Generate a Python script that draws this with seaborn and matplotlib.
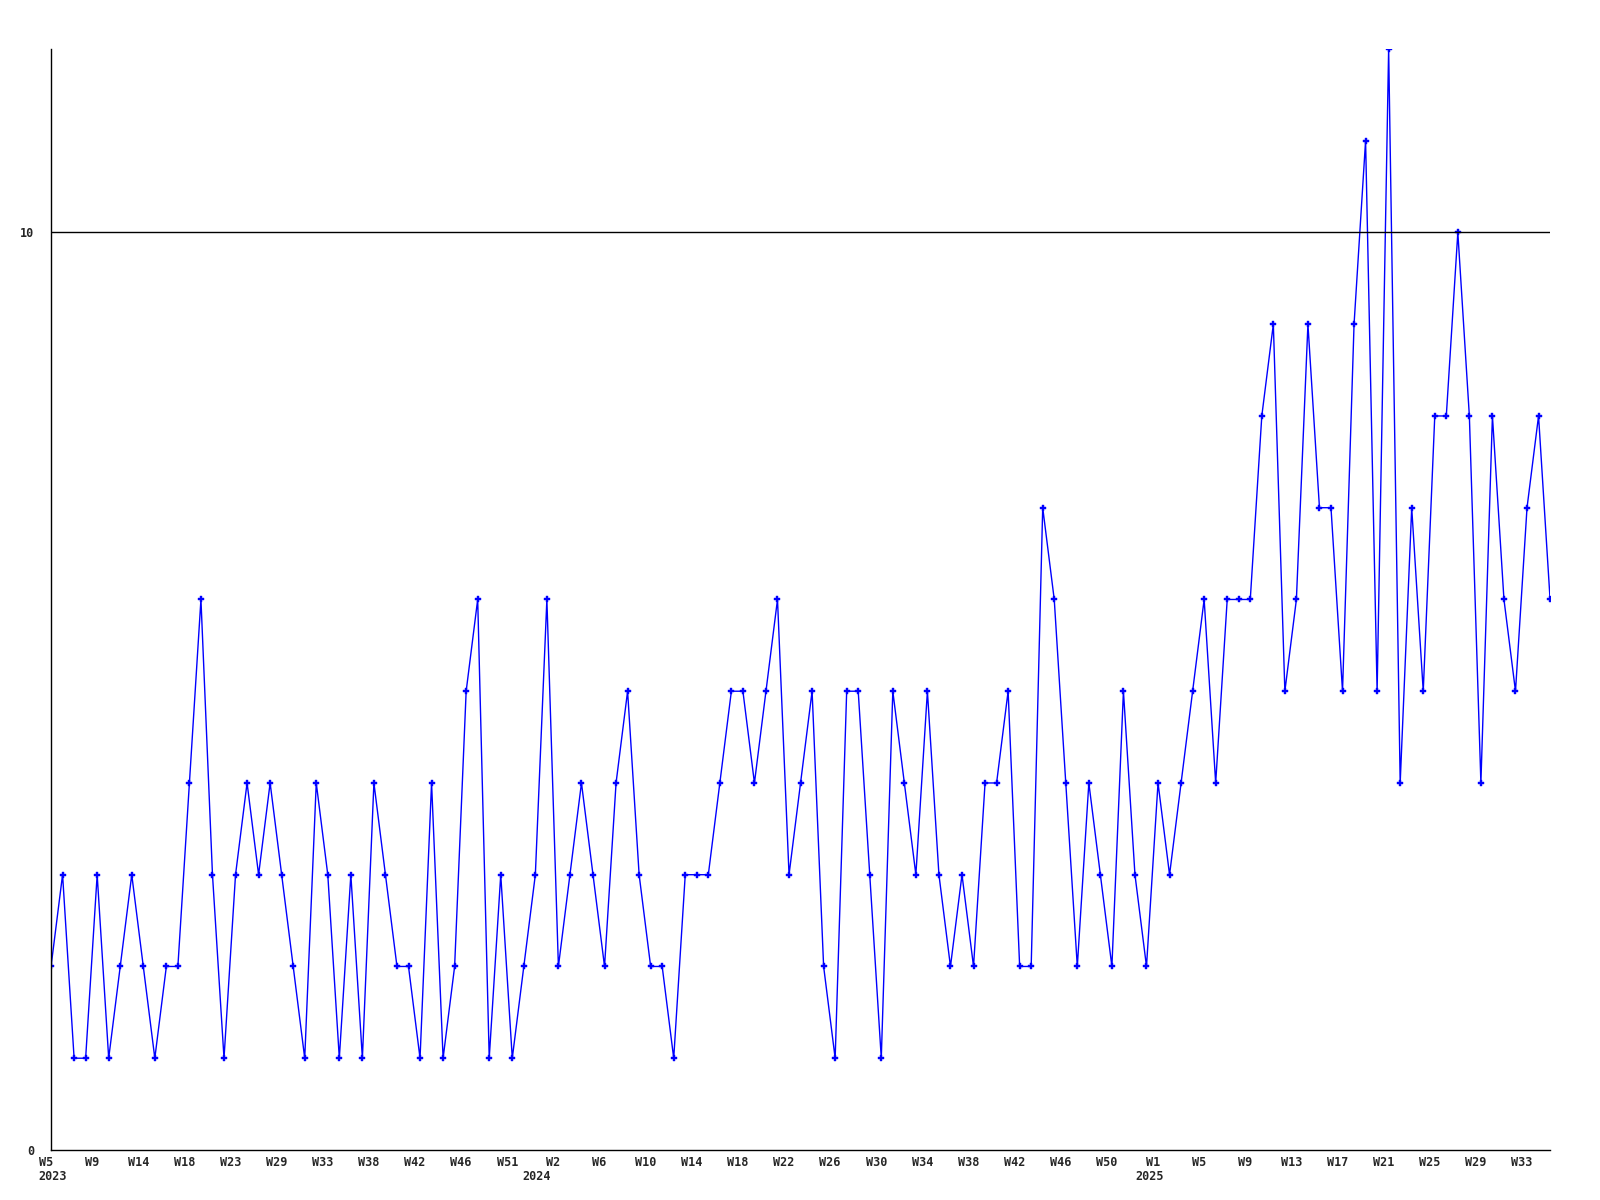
import pandas as pd
import matplotlib
matplotlib.use('Agg')
import matplotlib.pyplot as plt
import seaborn as sns

# weekly counts, first point = 2023 W5
values = [2, 3, 1, 1, 3, 1, 2, 3, 2, 1, 2, 2, 4, 6, 3, 1, 3, 4, 3, 4,
          3, 2, 1, 4, 3, 1, 3, 1, 4, 3, 2, 2, 1, 4, 1, 2, 5, 6, 1, 3,
          1, 2, 3, 6,
          2, 3, 4, 3, 2, 4, 5, 3, 2, 2, 1, 3, 3, 3, 4, 5, 5, 4, 5, 6,
          3, 4, 5, 2, 1, 5, 5, 3, 1, 5, 4, 3, 5, 3, 2, 3, 2, 4, 4, 5,
          2, 2,
          7, 6, 4, 2, 4, 3, 2, 5, 3, 2, 4, 3, 4, 5, 6, 4, 6, 6, 6, 8,
          9, 5, 6, 9, 7, 7, 5, 9, 11, 5, 12, 4, 7, 5, 8, 8, 10, 8, 4, 8,
          6, 5, 7, 8, 6]

# a label on every 4th point
tick_weeks = ['W5', 'W9', 'W14', 'W18', 'W23', 'W29', 'W33', 'W38', 'W42', 'W46', 'W51',
              'W2', 'W6', 'W10', 'W14', 'W18', 'W22', 'W26', 'W30', 'W34', 'W38', 'W42',
              'W46', 'W50', 'W1', 'W5', 'W9', 'W13', 'W17', 'W21', 'W25', 'W29', 'W33']
# year under the tick label number
year_labels = ['2023', '2024', '2025']
year_ticks = [0, 11, 24]
year_shift_px = [2, -22, -8]

df = pd.DataFrame({'idx': range(len(values)), 'count': values})

sns.set_style('white')
plt.rcParams['font.family'] = ['DejaVu Sans Mono']

fig = plt.figure(figsize=(16, 12), dpi=100)
ax = fig.add_axes([0.0319, 0.0417, 0.9369, 0.9175])

sns.lineplot(data=df, x='idx', y='count', color='#0000ff', linewidth=1,
             marker='P', markersize=4, markeredgewidth=0.3,
             markeredgecolor='#0000ff', ax=ax)
ax.axhline(10, color='black', linewidth=1)

ax.set_xlim(0, len(values) - 1)
ax.set_ylim(0, 12)
ax.set_yticks([0, 10])
ax.set_yticklabels(['0', '10'], fontsize=8.5, fontweight='bold')

ticks = list(range(0, len(values), 4))
ax.set_xticks(ticks)
ax.set_xticklabels([])

# week labels a little left of each point
for w, t in zip(tick_weeks, ticks):
    ax.annotate(w, xy=(t, 0), xycoords=('data', 'axes fraction'),
                xytext=(-5, -6), textcoords='offset pixels',
                ha='center', va='top', fontsize=8.5, fontweight='bold')

for yr, t, dx in zip(year_labels, year_ticks, year_shift_px):
    ax.annotate(yr, xy=(ticks[t], 0), xycoords=('data', 'axes fraction'),
                xytext=(dx, -20), textcoords='offset pixels',
                ha='center', va='top', fontsize=8.5, fontweight='bold')

ax.tick_params(axis='both', length=0)
ax.tick_params(axis='y', pad=12)
for s in ['top', 'right']:
    ax.spines[s].set_visible(False)
for s in ['left', 'bottom']:
    ax.spines[s].set_color('black')
    ax.spines[s].set_linewidth(1)
ax.set_xlabel('')
ax.set_ylabel('')

fig.savefig('out.png', dpi=100)
